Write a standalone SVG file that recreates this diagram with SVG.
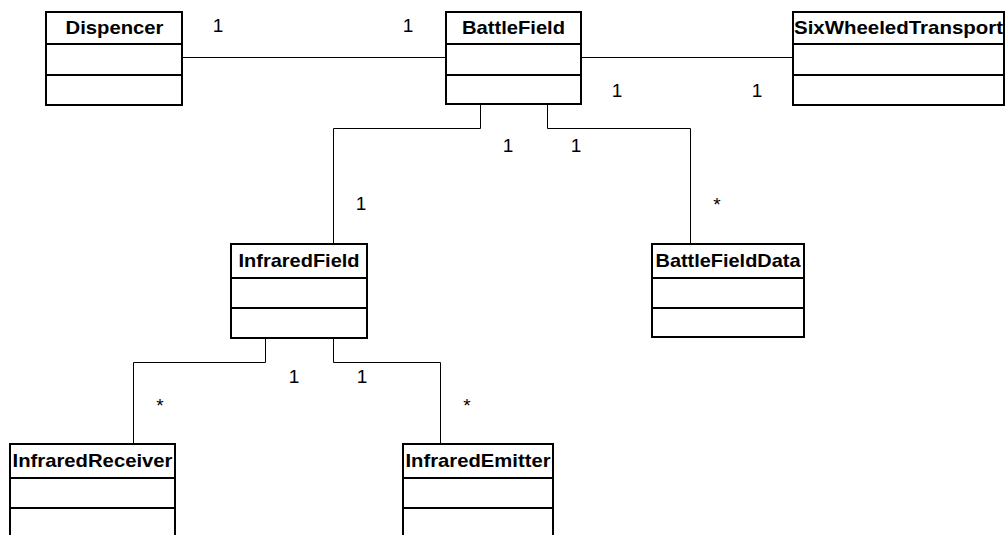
<svg xmlns="http://www.w3.org/2000/svg" width="1006" height="535" viewBox="0 0 1006 535">
<style>
.box{fill:#fff;stroke:#000;stroke-width:2}
.sep{stroke:#000;stroke-width:2}
.name{font-family:"Liberation Sans",Arial,sans-serif;font-weight:bold;font-size:19px;text-anchor:middle;fill:#000}
.conn{fill:none;stroke:#000;stroke-width:1}
.mult{font-family:"Liberation Sans",Arial,sans-serif;font-size:19px;text-anchor:middle;fill:#000}
</style>
<rect width="1006" height="535" fill="#fff"/>
<g id="connectors">
<polyline class="conn" points="182,57.5 446,57.5"/>
<polyline class="conn" points="581,57.5 793,57.5"/>
<polyline class="conn" points="480.5,104 480.5,128.5 333.5,128.5 333.5,244"/>
<polyline class="conn" points="547.5,104 547.5,128.5 690.5,128.5 690.5,244"/>
<polyline class="conn" points="265.5,338 265.5,362.5 133.5,362.5 133.5,444"/>
<polyline class="conn" points="333.5,338 333.5,362.5 440.5,362.5 440.5,444"/>
</g>
<g id="labels">
<text class="mult" x="218" y="32">1</text>
<text class="mult" x="408" y="32">1</text>
<text class="mult" x="617" y="97">1</text>
<text class="mult" x="757" y="97">1</text>
<text class="mult" x="508" y="152">1</text>
<text class="mult" x="576" y="152">1</text>
<text class="mult" x="361" y="210">1</text>
<text class="mult" x="717" y="211">*</text>
<text class="mult" x="294" y="383">1</text>
<text class="mult" x="362" y="383">1</text>
<text class="mult" x="160" y="412">*</text>
<text class="mult" x="467" y="412">*</text>
</g>
<g id="Dispencer">
<rect class="box" x="46" y="12" width="136" height="93"/>
<line class="sep" x1="46" y1="44" x2="182" y2="44"/>
<line class="sep" x1="46" y1="75" x2="182" y2="75"/>
<text class="name" x="114.5" y="34" textLength="98" lengthAdjust="spacingAndGlyphs">Dispencer</text>
</g>
<g id="BattleField">
<rect class="box" x="446" y="12" width="135" height="92"/>
<line class="sep" x1="446" y1="44" x2="581" y2="44"/>
<line class="sep" x1="446" y1="75" x2="581" y2="75"/>
<text class="name" x="513.5" y="34" textLength="103" lengthAdjust="spacingAndGlyphs">BattleField</text>
</g>
<g id="SixWheeledTransport">
<rect class="box" x="793" y="12" width="211" height="93"/>
<line class="sep" x1="793" y1="44" x2="1004" y2="44"/>
<line class="sep" x1="793" y1="75" x2="1004" y2="75"/>
<text class="name" x="898.5" y="34" textLength="209" lengthAdjust="spacingAndGlyphs">SixWheeledTransport</text>
</g>
<g id="InfraredField">
<rect class="box" x="231" y="244" width="136" height="94"/>
<line class="sep" x1="231" y1="278" x2="367" y2="278"/>
<line class="sep" x1="231" y1="308" x2="367" y2="308"/>
<text class="name" x="299" y="267" textLength="121" lengthAdjust="spacingAndGlyphs">InfraredField</text>
</g>
<g id="BattleFieldData">
<rect class="box" x="652" y="244" width="152" height="93"/>
<line class="sep" x1="652" y1="278" x2="804" y2="278"/>
<line class="sep" x1="652" y1="308" x2="804" y2="308"/>
<text class="name" x="728" y="267" textLength="145" lengthAdjust="spacingAndGlyphs">BattleFieldData</text>
</g>
<g id="InfraredReceiver">
<rect class="box" x="10" y="444" width="165" height="100"/>
<line class="sep" x1="10" y1="478" x2="175" y2="478"/>
<line class="sep" x1="10" y1="508" x2="175" y2="508"/>
<text class="name" x="92.5" y="467" textLength="160" lengthAdjust="spacingAndGlyphs">InfraredReceiver</text>
</g>
<g id="InfraredEmitter">
<rect class="box" x="403" y="444" width="150" height="100"/>
<line class="sep" x1="403" y1="478" x2="553" y2="478"/>
<line class="sep" x1="403" y1="508" x2="553" y2="508"/>
<text class="name" x="478" y="467" textLength="145" lengthAdjust="spacingAndGlyphs">InfraredEmitter</text>
</g>
</svg>
